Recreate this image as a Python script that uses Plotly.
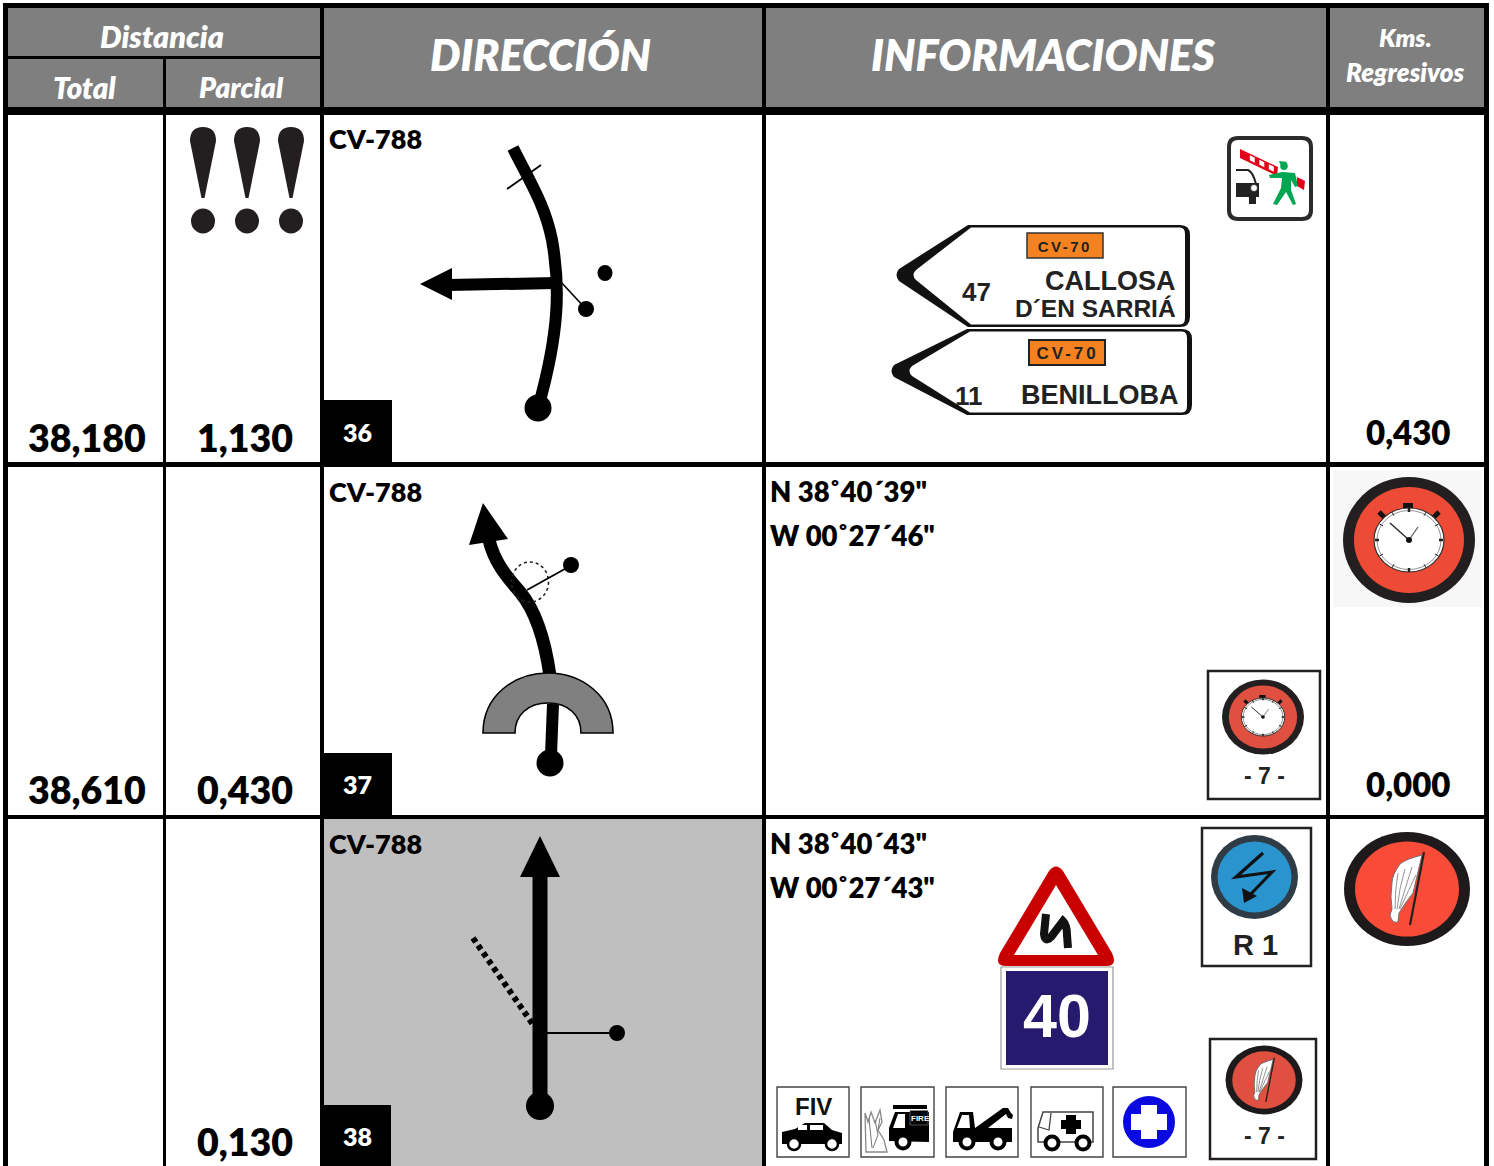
import plotly.graph_objects as go
import math

# ---- table content ----
header_groups = ["Distancia", "DIRECCIÓN", "INFORMACIONES"]
header_subs = ["Total", "Parcial"]
header_kms = ["Kms.", "Regresivos"]
total_km = ["38,180", "38,610", ""]
partial_km = ["1,130", "0,430", "0,130"]
regressive_km = ["0,430", "0,000", ""]
case_numbers = ["36", "37", "38"]
road_labels = ["CV-788", "CV-788", "CV-788"]
coords_n = ["", 'N 38˚40´39"', 'N 38˚40´43"']
coords_w = ["", 'W 00˚27´46"', 'W 00˚27´43"']
sign_road = ["CV-70", "CV-70"]
sign_km = ["47", "11"]
sign_dest = ["CALLOSA", "D´EN SARRIÁ", "BENILLOBA"]
plate_labels = ["- 7 -", "- 7 -", "R 1"]

shapes, notes = [], []
INK = "#000000"
GREY = "#7f7f7f"


def rect(x0, y0, x1, y1, fill=INK, line=None, lw=0):
    shapes.append(dict(type="rect", x0=x0, y0=y0, x1=x1, y1=y1, fillcolor=fill,
                       line=dict(color=line or fill, width=lw)))


def oval(cx, cy, rx, ry=None, fill=INK, line=None, lw=0, dash=None):
    ry = rx if ry is None else ry
    ln = dict(color=line or fill, width=lw)
    if dash:
        ln["dash"] = dash
    shapes.append(dict(type="circle", x0=cx - rx, x1=cx + rx, y0=cy - ry, y1=cy + ry,
                       fillcolor=fill, line=ln))


def path(d, fill=None, line=None, lw=0, dash=None):
    ln = dict(color=line or "rgba(0,0,0,0)", width=lw)
    if dash:
        ln["dash"] = dash
    shapes.append(dict(type="path", path=d, fillcolor=fill or "rgba(0,0,0,0)", line=ln))


def seg(x0, y0, x1, y1, color=INK, lw=1.5, dash=None):
    ln = dict(color=color, width=lw)
    if dash:
        ln["dash"] = dash
    shapes.append(dict(type="line", x0=x0, y0=y0, x1=x1, y1=y1, line=ln))


def text(x, y, s, size, color=INK, font="Lato", weight=800, italic=False, anchor="center"):
    notes.append(dict(x=x, y=y, text=s, showarrow=False, xanchor=anchor, yanchor="middle",
                      xref="x", yref="y",
                      font=dict(family=font, size=size, color=color, weight=weight,
                                style="italic" if italic else "normal")))


def stopwatch(cx, cy, rx, ry, red):
    k, m = rx / 66.0, ry / 63.0
    oval(cx, cy, rx, ry, fill="#231f20")
    oval(cx, cy, 55 * k, 53 * m, fill=red)
    rect(cx - 6 * k, cy - 37 * m, cx + 4 * k, cy - 31 * m, fill="#111111")
    seg(cx - 30 * k, cy - 28 * m, cx - 24 * k, cy - 22 * m, "#111111", 5 * k)
    seg(cx + 30 * k, cy - 28 * m, cx + 24 * k, cy - 22 * m, "#111111", 5 * k)
    oval(cx, cy, 35 * k, 32 * m, fill="#ffffff", line="#333333", lw=max(1, 1.2 * k))
    oval(cx, cy, 32 * k, 29.5 * m, fill="#ffffff", line="#666666", lw=0.7)
    for i in range(12):
        a = math.radians(i * 30)
        c, s = math.cos(a), math.sin(a)
        seg(cx + 30 * k * c, cy + 28 * m * s, cx + 34 * k * c, cy + 32 * m * s, "#222222",
            2.5 * k if i % 3 == 0 else 1)
    seg(cx, cy, cx - 19 * k, cy - 17 * m, "#333333", 1.6 * k)
    seg(cx, cy, cx + 9 * k, cy - 13 * m, "#555555", 1.2 * k)
    oval(cx, cy, 3 * k, 3 * m, fill="#111111")


def flag_badge(cx, cy, rx, ry, red):
    k, m = rx / 63.0, ry / 57.0
    P = lambda a, b: f"{cx + a * k:.1f},{cy + b * m:.1f}"
    oval(cx, cy, rx, ry, fill="#1e1a1b")
    oval(cx, cy, 52 * k, 47.5 * m, fill=red)
    path(f"M{P(15,-34)} Q{P(-1,-30)} {P(-7,-25)} Q{P(-15,-14)} {P(-15,-6)} "
         f"Q{P(-17,8)} {P(-15,20)} L{P(-17,26)} Q{P(-15,35)} {P(-9,33)} "
         f"L{P(-8,24)} Q{P(-2,14)} {P(6,4)} Z", fill="#ffffff", line="#666666", lw=0.9)
    path(f"M{P(-9,-16)} Q{P(-12,0)} {P(-12,20)} M{P(-2,-20)} Q{P(-8,0)} {P(-10,20)} "
         f"M{P(5,-22)} Q{P(-2,0)} {P(-8,20)} M{P(9,-14)} Q{P(2,0)} {P(-7,20)}", line="#888888", lw=0.9)
    seg(cx + 17 * k, cy - 37 * m, cx + 3 * k, cy + 36 * m, "#222222", 2.2 * k)


def plate(xt, yt, xa, ytop, xr, ybot, xti, col_w=5):
    path(f"M{xa},{ytop} L{xt+5},{yt-6} Q{xt},{yt} {xt+5},{yt+6} L{xa},{ybot} "
         f"L{xr-10},{ybot} Q{xr},{ybot} {xr},{ybot-10} L{xr},{ytop+10} Q{xr},{ytop} {xr-10},{ytop} Z",
         fill="#111111")
    path(f"M{xa+3},{ytop+2.5} L{xti+3},{yt-5} Q{xti-2},{yt} {xti+3},{yt+5} L{xa+3},{ybot-2.5} "
         f"L{xr-10},{ybot-2.5} Q{xr-col_w},{ybot-2.5} {xr-col_w},{ybot-9} "
         f"L{xr-col_w},{ytop+9} Q{xr-col_w},{ytop+2.5} {xr-10},{ytop+2.5} Z",
         fill="#ffffff")


# ---- table frame ----
rect(0, 0, 1494, 1166, fill="#ffffff")
rect(3, 3, 1489, 115, fill=INK)
rect(8, 8, 320, 56, fill=GREY)
rect(8, 59, 163, 107, fill=GREY)
rect(166, 59, 320, 107, fill=GREY)
rect(324, 8, 762, 107, fill=GREY)
rect(766, 8, 1326, 107, fill=GREY)
rect(1330, 8, 1484, 107, fill=GREY)

rect(324, 819, 762, 1166, fill="#bfbfbf")

for x0, x1 in [(3, 8), (163, 166), (320, 324), (762, 766), (1326, 1330), (1484, 1489)]:
    rect(x0, 107, x1, 1166)
for y0, y1 in [(462, 467), (815, 819)]:
    rect(3, y0, 1489, y1)

# ---- header text ----
text(162, 36, header_groups[0], 30.5, "#ffffff", italic=True)
text(84, 87, header_subs[0], 29.5, "#ffffff", italic=True)
text(241.5, 87, header_subs[1], 28.5, "#ffffff", italic=True)
text(540, 54, header_groups[1], 43, "#ffffff", italic=True)
text(1043, 54, header_groups[2], 43.5, "#ffffff", italic=True)
text(1405, 37, header_kms[0], 25, "#ffffff", italic=True)
text(1405, 72, header_kms[1], 26, "#ffffff", italic=True)

# ---- distances ----
row_y = [437, 789, 1141]
for i, y in enumerate(row_y):
    if total_km[i]:
        text(87, y, total_km[i], 37.5)
    text(245, y, partial_km[i], 37.5)
    if regressive_km[i]:
        text(1408, y - 5, regressive_km[i], 33)

# ---- notes: !!! ----
for x in [203, 247, 291]:
    path(f"M{x-13},{141} Q{x-13},{127} {x},{127} Q{x+13},{127} {x+13},{141} "
         f"L{x+1.5},{198} L{x-1.5},{198} Z", fill="#231f20")
    oval(x, 221, 12, 12.5, fill="#231f20")

# ---- case number boxes ----
for (x1, y0, y1, ty), n in zip([(392, 400, 462, 432), (392, 753, 815, 784), (391, 1105, 1166, 1136)],
                               case_numbers):
    rect(324, y0, x1, y1)
    text(357.5, ty, n, 25, "#ffffff")

for y, s in zip([138, 491, 843], road_labels):
    text(326.5, y, s, 27, anchor="left")

# ---- route 36 ----
path("M513,148 C530,182 545,205 552,240 C560,285 560,330 538,408", line=INK, lw=12)
seg(507, 189, 541, 165, lw=1.8)
seg(448, 285, 556, 283, lw=12)
path("M420,284 L452,268 L452,300 Z", fill=INK)
seg(560, 281, 586, 309, lw=1.6)
oval(605, 273, 7.5, 8)
oval(586, 309, 8, 8)
oval(538, 408, 13.5, 13.5)

# ---- route 37 ----
path("M489,540 C495,565 510,580 520,592 C535,610 545,640 550,676", line=INK, lw=13)
path("M483,503 L469,545 L508,539 Z", fill=INK)
oval(530, 582, 18.5, 20, fill="rgba(0,0,0,0)", line="#222222", lw=1.6, dash="dot")
seg(527, 590, 572, 565, lw=1.8)
oval(571, 565, 8, 8)
path("M483,733 C483,695 515,673 548,673 C581,673 613,695 613,733 L581,733 "
     "C581,715 568,703 548,703 C528,703 515,715 515,733 Z", fill="#808080", line=INK, lw=1.6)
path("M553,704 L551,755", line=INK, lw=12)
oval(550, 763, 13.5, 13.5)

# ---- route 38 ----
seg(540, 868, 540, 1105, lw=15)
path("M540,836 L520,877 L560,877 Z", fill=INK)
seg(473, 938, 534, 1026, lw=6, dash="5px,4px")
seg(540, 1033, 617, 1033, lw=1.8)
oval(617, 1033, 8, 8)
oval(540, 1106, 14, 14)

# ---- coordinates ----
for y0, n, w in [(491, coords_n[1], coords_w[1]), (843, coords_n[2], coords_w[2])]:
    text(768, y0, n, 27.5, anchor="left")
    text(768, y0 + 44, w, 27.5, anchor="left")

# ---- control sign ----
path("M1238,138 L1302,138 Q1311,138 1311,147 L1311,210 Q1311,219 1302,219 L1238,219 "
     "Q1229,219 1229,210 L1229,147 Q1229,138 1238,138 Z", fill="#ffffff", line="#2b2b2b", lw=4)
path("M1240,149 L1278,167 L1277,176 L1240,158 Z", fill="#e2001a")
for a in [0.2, 0.48, 0.76]:
    path(f"M{1243+34*a:.1f},{152+16*a:.1f} L{1248+34*a:.1f},{154.5+16*a:.1f} "
         f"L{1248+34*a:.1f},{159.5+16*a:.1f} L{1243+34*a:.1f},{157+16*a:.1f} Z", fill="#ffffff")
path("M1297,177 L1305,181 L1304,190 L1297,186 Z", fill="#e2001a")
path("M1282,172 L1295,173 L1298,186 L1295,187 L1291,180 L1291,190 L1296,204 L1293,205 L1286,192 "
     "L1277,205 L1273,204 L1281,188 L1282,178 L1270,178 L1269,175 Z", fill="#00a651")
oval(1284, 166, 3.8, 4, fill="#00a651")
path("M1279,161 L1287,162 L1285,164 L1280,164 Z", fill="#00a651")
path("M1236,170 L1248,170 Q1253,172 1256,184", line="#222222", lw=2)
rect(1236, 183, 1259, 197, fill="#222222")
oval(1254, 188, 3.5, 3.5, fill="#ffffff", line="#222222", lw=0.8)
rect(1249, 197, 1256, 204, fill="#222222")

# ---- direction plates ----
plate(894, 275, 968, 225, 1190, 327, 913)
rect(1027, 233, 1103, 258, fill="#f58220", line="#333333", lw=1.5)
text(1065, 246, sign_road[0], 15, "#222222", font="Liberation Sans", weight=700)
text(976, 292, sign_km[0], 26, "#222222", font="Liberation Sans", weight=700)
text(1178, 281, sign_dest[0], 27, "#222222", font="Liberation Sans", weight=700, anchor="right")
text(1178, 308, sign_dest[1], 24.5, "#222222", font="Liberation Sans", weight=700, anchor="right")

plate(889, 371, 967, 329, 1192, 415, 909)
rect(1029, 340, 1105, 365, fill="#f58220", line="#222222", lw=2)
text(1067, 353, sign_road[1], 17, "#222222", font="Liberation Sans", weight=700)
text(969, 396, sign_km[1], 26, "#222222", font="Liberation Sans", weight=700)
text(1181, 395, sign_dest[2], 27, "#222222", font="Liberation Sans", weight=700, anchor="right")

# ---- stopwatches ----
rect(1333, 470, 1482, 607, fill="#f7f7f7")
stopwatch(1409, 540, 66, 63, "#ee4b36")
rect(1208, 671, 1320, 799, fill="#ffffff", line="#231f20", lw=2.5)
stopwatch(1263, 717, 41, 37.5, "#e05040")
text(1264, 776, plate_labels[0], 23, "#222222", font="Liberation Sans", weight=700)

# ---- flag badges ----
flag_badge(1407, 889, 63, 57, "#f94c38")
rect(1210, 1039, 1316, 1159, fill="#ffffff", line="#231f20", lw=2.5)
flag_badge(1264, 1080, 38.5, 34.5, "#e05040")
text(1264, 1136, plate_labels[1], 23, "#222222", font="Liberation Sans", weight=700)

# ---- R1 ----
rect(1202, 828, 1311, 966, fill="#ffffff", line="#222222", lw=2.5)
oval(1254.5, 877, 43.5, 42, fill="#2f3b45")
oval(1254.5, 877, 37, 35.5, fill="#2a94cf")
path("M1263,853 L1236,877 L1272,872 L1248,897", line="#111111", lw=3.2)
path("M1244,903 L1242,888 L1257,896 Z", fill="#111111")
text(1255, 945, plate_labels[2], 29, "#222222", font="Liberation Sans", weight=700)

# ---- warning triangle + speed panel ----
path("M1049,871 Q1056,862 1063,871 L1112,953 Q1118,966 1106,966 L1006,966 Q994,966 1000,953 Z",
     fill="#c80000")
path("M1056,885 L1098,955 L1014,955 Z", fill="#ffffff")
path("M1046,914 L1044,934 Q1045,943 1051,937 L1063,921 Q1067,925 1067,935 L1068,948", line="#111111", lw=8)
rect(1001, 967, 1113, 1069, fill="#ffffff", line="#999999", lw=1.2)
rect(1006, 971, 1108, 1065, fill="#251a6e")
text(1057, 1016, "40", 61, "#ffffff", font="Liberation Sans", weight=700)

# ---- service icons ----
for x0, x1 in [(777, 849), (861, 934), (946, 1018), (1031, 1103), (1113, 1186)]:
    rect(x0, 1087, x1, 1157, fill="#ffffff", line="#444444", lw=1.4)

# FIV car
text(813, 1106, "FIV", 24, "#111111", font="Liberation Sans", weight=700)
path("M782,1132 L795,1129 L805,1123 L824,1123 L832,1130 L842,1133 L842,1144 L782,1144 Z", fill=INK)
rect(798, 1125, 807, 1130, fill="#ffffff")
rect(810, 1125, 823, 1130, fill="#ffffff")
for cx in [794, 832]:
    oval(cx, 1144, 6, 6, fill="#ffffff", line=INK, lw=2.5)

# fire truck
path("M865,1113 L868,1122 L871,1112 L875,1123 L880,1110 L882,1122 L878,1130 L884,1140 L887,1152 L866,1152 Z",
     fill="#ffffff", line="#888888", lw=1.3)
path("M869,1118 L872,1148 M875,1120 L878,1135 L873,1148 M880,1118 L878,1130", line="#777777", lw=1)
rect(893, 1105, 927, 1109, fill=INK)
path("M889,1141 L889,1128 L895,1112 L929,1112 L929,1142 Z", fill=INK)
path("M893,1128 L898,1114 L905,1114 L905,1128 Z", fill="#ffffff")
rect(910, 1110.5, 928, 1125, fill=INK, line="#888888", lw=0.6)
text(920, 1118, "FIRE", 8, "#ffffff", font="Liberation Sans", weight=700)
oval(903, 1142, 6.5, 6.5, fill="#ffffff", line=INK, lw=4)

# tow truck
path("M953,1142 L953,1132 L960,1112 L973,1112 L975,1128 L1003,1108 L1008,1108 L1011,1113 L1013,1115 "
     "L1012,1119 L1008,1118 L1006,1114 L988,1128 L1012,1128 L1012,1142 Z", fill=INK)
path("M957,1128 L962,1115 L969,1115 L970,1128 Z", fill="#ffffff")
for cx in [967, 998]:
    oval(cx, 1142, 6.5, 6.5, fill="#ffffff", line=INK, lw=4)

# ambulance
path("M1038,1142 L1038,1128 L1043,1112 L1093,1112 L1093,1142 Z", fill="#ffffff", line="#444444", lw=1.5)
path("M1039,1127 L1049,1130 L1051,1113", line="#444444", lw=1.3)
rect(1066, 1115, 1076, 1134, fill=INK)
rect(1061, 1120, 1081, 1129, fill=INK)
for cx in [1052, 1083]:
    oval(cx, 1143, 6.5, 6.5, fill="#ffffff", line=INK, lw=4)

# first-aid cross
oval(1149, 1122, 26, 26, fill="#0a0ae0")
rect(1141, 1105, 1157, 1139, fill="#ffffff")
rect(1131, 1114, 1167, 1130, fill="#ffffff")

fig = go.Figure()
fig.update_layout(
    width=1494, height=1166, margin=dict(l=0, r=0, t=0, b=0),
    paper_bgcolor="#ffffff", plot_bgcolor="#ffffff", showlegend=False,
    xaxis=dict(range=[0, 1494], visible=False, fixedrange=True),
    yaxis=dict(range=[1166, 0], visible=False, fixedrange=True),
    shapes=shapes, annotations=notes,
)
post = """
document.body.style.margin='0';document.body.style.overflow='hidden';
document.querySelectorAll('.annotation-text').forEach(function(t){
  if(t.textContent==='CV-70'){
    t.style.letterSpacing = (parseFloat(t.style.fontSize)>16) ? '3px' : '2.5px';
  }
});
"""
fig.write_html("out.html", config=dict(displayModeBar=False), post_script=post)
